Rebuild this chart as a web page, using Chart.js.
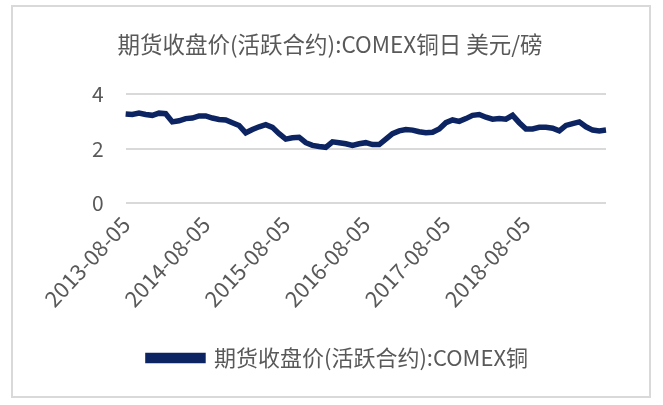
<!DOCTYPE html>
<html>
<head>
<meta charset="utf-8">
<script src="https://cdn.jsdelivr.net/npm/chart.js@4.4.1/dist/chart.umd.min.js"></script>
<style>
  html, body { margin: 0; padding: 0; background: #ffffff; }
  #wrap { position: relative; width: 663px; height: 405px; }
</style>
</head>
<body>
<div id="wrap"><canvas id="c" width="663" height="405"></canvas></div>
<script>
const chartTitle = '期货收盘价(活跃合约):COMEX铜日 美元/磅';
const seriesName = '期货收盘价(活跃合约):COMEX铜';
const dates = [
  '2013-08-05','2013-09-05','2013-10-05','2013-11-05','2013-12-05','2014-01-05','2014-02-05','2014-03-05','2014-04-05','2014-05-05','2014-06-05','2014-07-05',
  '2014-08-05','2014-09-05','2014-10-05','2014-11-05','2014-12-05','2015-01-05','2015-02-05','2015-03-05','2015-04-05','2015-05-05','2015-06-05','2015-07-05',
  '2015-08-05','2015-09-05','2015-10-05','2015-11-05','2015-12-05','2016-01-05','2016-02-05','2016-03-05','2016-04-05','2016-05-05','2016-06-05','2016-07-05',
  '2016-08-05','2016-09-05','2016-10-05','2016-11-05','2016-12-05','2017-01-05','2017-02-05','2017-03-05','2017-04-05','2017-05-05','2017-06-05','2017-07-05',
  '2017-08-05','2017-09-05','2017-10-05','2017-11-05','2017-12-05','2018-01-05','2018-02-05','2018-03-05','2018-04-05','2018-05-05','2018-06-05','2018-07-05',
  '2018-08-05','2018-09-05','2018-10-05','2018-11-05','2018-12-05','2019-01-05','2019-02-05','2019-03-05','2019-04-05','2019-05-05','2019-06-05','2019-07-05',
  '2019-08-05'
];
const prices = [
  3.27,3.25,3.30,3.25,3.22,3.30,3.28,2.98,3.02,3.10,3.12,3.20,
  3.20,3.12,3.07,3.05,2.95,2.85,2.58,2.70,2.80,2.88,2.78,2.55,
  2.35,2.40,2.42,2.22,2.12,2.08,2.05,2.25,2.22,2.18,2.12,2.18,
  2.22,2.15,2.15,2.35,2.55,2.65,2.70,2.68,2.62,2.58,2.60,2.72,
  2.95,3.05,3.00,3.10,3.22,3.25,3.15,3.08,3.10,3.08,3.22,2.95,
  2.72,2.72,2.78,2.78,2.75,2.65,2.85,2.92,2.98,2.80,2.68,2.65,
  2.68
];
const shownTicks = ['2013-08-05','2014-08-05','2015-08-05','2016-08-05','2017-08-05','2018-08-05'];
const yTicks = [0, 2, 4];

const FONT = '"Noto Sans CJK SC", "Noto Sans", sans-serif';
const TEXT = '#595959';
const NAVY = '#0c2461';

const framePlugin = {
  id: 'frame',
  afterLayout(chart) {
    // centre the title on the whole frame rather than on the padded area
    if (chart.titleBlock) {
      chart.titleBlock.left -= 8;
      chart.titleBlock.right -= 8;
    }
  },
  beforeDraw(chart) {
    const ctx = chart.ctx;
    ctx.save();
    ctx.fillStyle = '#ffffff';
    ctx.fillRect(0, 0, chart.width, chart.height);
    ctx.strokeStyle = '#d9d9d9';
    ctx.lineWidth = 2;
    ctx.strokeRect(12, 6, 638, 391);
    ctx.restore();
  }
};

new Chart(document.getElementById('c'), {
  type: 'line',
  data: {
    labels: dates,
    datasets: [{
      label: seriesName,
      data: prices,
      borderColor: NAVY,
      backgroundColor: NAVY,
      borderWidth: 5.5,
      pointRadius: 0,
      tension: 0,
      fill: false
    }]
  },
  options: {
    responsive: false,
    animation: false,
    layout: { padding: { left: 70, right: 57, top: 31, bottom: 26 } },
    plugins: {
      title: {
        display: true,
        text: chartTitle,
        color: TEXT,
        font: { family: FONT, size: 22.5, weight: 'normal' },
        padding: { top: 0, bottom: 36 }
      },
      legend: {
        position: 'bottom',
        labels: {
          color: TEXT,
          font: { family: FONT, size: 22 },
          boxWidth: 55,
          boxHeight: 5,
          padding: 35
        }
      },
      tooltip: { enabled: false }
    },
    scales: {
      x: {
        type: 'category',
        offset: false,
        grid: { display: false },
        border: { display: false },
        ticks: {
          autoSkip: false,
          maxRotation: 47,
          minRotation: 47,
          color: TEXT,
          font: { family: FONT, size: 22 },
          padding: 0,
          callback: function(value, index) {
            const lab = this.getLabelForValue(value);
            return shownTicks.includes(lab) ? lab : '';
          }
        }
      },
      y: {
        min: 0,
        max: 4,
        afterBuildTicks(axis) { axis.ticks = yTicks.map(v => ({ value: v })); },
        grid: { color: '#d9d9d9', lineWidth: 2, drawTicks: false },
        border: { display: false },
        ticks: {
          color: TEXT,
          font: { family: FONT, size: 21 },
          padding: 22
        }
      }
    }
  },
  plugins: [framePlugin]
});
</script>
</body>
</html>
